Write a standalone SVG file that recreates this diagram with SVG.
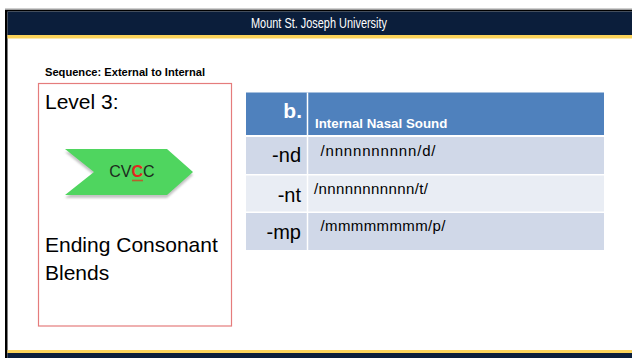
<svg xmlns="http://www.w3.org/2000/svg" width="632" height="358" viewBox="0 0 632 358">
  <style>
    .sans { font-family: "Liberation Sans", Arial, sans-serif; }
    .big { font-size: 21px; fill: #000; }
    .cell-key { font-size: 20px; fill: #000; text-anchor: end; }
    .cell-val { font-size: 15px; fill: #000; }
    .row-a { fill: #d0d8e8; }
    .row-b { fill: #e9edf4; }
    .sep { stroke: #ffffff; stroke-width: 1.5; }
  </style>
  <defs>
    <filter id="soft" x="-10%" y="-10%" width="120%" height="130%">
      <feGaussianBlur stdDeviation="0.8"/>
    </filter>
  </defs>

  <rect width="632" height="358" fill="#ffffff"/>

  <!-- slide frame: top rule, left edge, header and footer bands -->
  <g id="frame">
    <rect x="5" y="8.5" width="627" height="1.5" fill="#a0a0a0"/>
    <rect x="5" y="10" width="627" height="1.5" fill="#000000"/>
    <rect x="5" y="10" width="2.5" height="348" fill="#000000"/>
    <rect x="7.5" y="11.5" width="624.5" height="23.5" fill="#0b1e3b"/>
    <rect x="7.5" y="35" width="624.5" height="3.5" fill="#fbd35a"/>
    <rect x="7.5" y="350" width="624.5" height="3" fill="#fbd35a"/>
    <rect x="7.5" y="353" width="624.5" height="5" fill="#0b1e3b"/>
  </g>

  <g id="header-title">
    <text class="sans" x="319" y="28.3" font-size="13.8" fill="#ffffff" text-anchor="middle" textLength="136" lengthAdjust="spacingAndGlyphs">Mount St. Joseph University</text>
  </g>

  <g id="sequence-label">
    <text class="sans" x="45" y="75.5" font-size="10.8" font-weight="bold" fill="#000" textLength="160" lengthAdjust="spacingAndGlyphs">Sequence: External to Internal</text>
  </g>

  <!-- level card -->
  <g id="level-card">
    <rect x="38.5" y="83.5" width="193" height="242.5" fill="none" stroke="#e57c7c" stroke-width="1.2"/>
    <text class="sans big" x="45" y="109">Level 3:</text>
    <text class="sans big" x="45" y="251.5">Ending Consonant</text>
    <text class="sans big" x="45" y="280">Blends</text>
  </g>

  <!-- CVCC chevron -->
  <g id="chevron">
    <polygon points="65,152 167,152 193,175 167,198 65,198 94,175" fill="#c4c4c4" filter="url(#soft)"/>
    <polygon points="65,149 167,149 193,172 167,195 65,195 94,172" fill="#4fd55f"/>
    <text class="sans" x="132" y="177" font-size="16" text-anchor="middle" fill="#1d2b1d">CV<tspan fill="#e0281e" font-weight="bold">C</tspan>C</text>
    <line x1="132" y1="180.5" x2="143" y2="180.5" stroke="#b8602c" stroke-width="1.6"/>
  </g>

  <!-- nasal sound table -->
  <g id="nasal-table">
    <rect x="246" y="92.5" width="358" height="42.5" fill="#4f81bd"/>
    <rect class="row-a" x="246" y="137" width="358" height="37"/>
    <rect class="row-b" x="246" y="175.5" width="358" height="36"/>
    <rect class="row-a" x="246" y="213" width="358" height="37"/>
    <line class="sep" x1="307.5" y1="92.5" x2="307.5" y2="250"/>

    <text class="sans" x="302" y="118" font-size="21" font-weight="bold" fill="#ffffff" text-anchor="end">b.</text>
    <text class="sans" x="315" y="128" font-size="13.3" font-weight="bold" fill="#ffffff">Internal Nasal Sound</text>

    <text class="sans cell-key" x="301" y="162">-nd</text>
    <text class="sans cell-val" x="320.5" y="156" textLength="115">/nnnnnnnnnn/d/</text>

    <text class="sans cell-key" x="301" y="201.5">-nt</text>
    <text class="sans cell-val" x="314" y="194" textLength="114">/nnnnnnnnnnn/t/</text>

    <text class="sans cell-key" x="301" y="238.5">-mp</text>
    <text class="sans cell-val" x="320.5" y="231" textLength="125">/mmmmmmmm/p/</text>
  </g>
</svg>
